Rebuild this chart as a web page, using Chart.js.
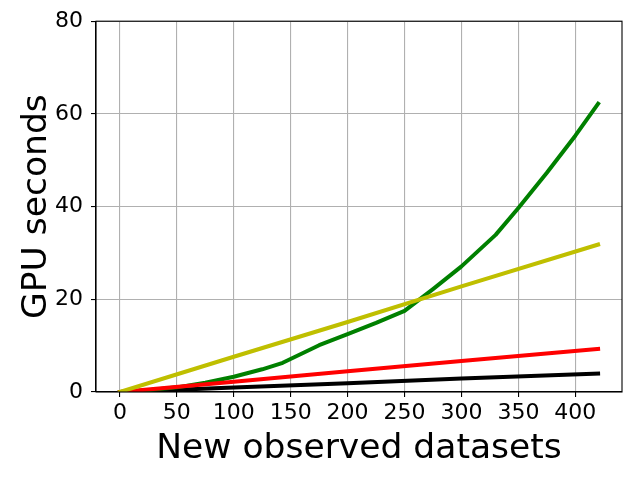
<!DOCTYPE html>
<html>
<head>
<meta charset="utf-8">
<script src="https://cdn.jsdelivr.net/npm/chart.js@4"></script>
<style>
  html, body { margin: 0; padding: 0; background: #fff; }
  #wrap { width: 640px; height: 480px; }
</style>
</head>
<body>
<div id="wrap"><canvas id="myChart" width="640" height="480"></canvas></div>
<script>
// values
const greenX = [0, 25, 50, 75, 100, 125, 143, 175, 200, 225, 250, 275, 300, 330, 350, 375, 400, 420];
const greenY = [0, 0.4, 1.0, 2.0, 3.3, 4.9, 6.3, 10.1, 12.5, 14.9, 17.5, 22.2, 27.1, 33.9, 39.7, 47.3, 55.3, 62.2];
const lineX = [0, 100, 200, 300, 420];
const yellowY = [0, 7.6, 15.1, 22.8, 31.8];
const redY = [0, 2.2, 4.5, 6.7, 9.3];
const blackY = [0, 0.95, 1.9, 2.9, 4.0];
const xTicks = [0, 50, 100, 150, 200, 250, 300, 350, 400];
const yTicks = [0, 20, 40, 60, 80];

const pts = (xs, ys) => xs.map((x, i) => ({x: x, y: ys[i]}));

const line = (data, color) => ({
    data: data,
    borderColor: color,
    borderWidth: 4,
    pointRadius: 0,
    borderCapStyle: 'square',
    borderJoinStyle: 'round',
    tension: 0,
    fill: false
});

// top/right spines like matplotlib
const frame = {
    id: 'frame',
    afterDatasetsDraw(chart) {
        const a = chart.chartArea, ctx = chart.ctx;
        ctx.save();
        ctx.strokeStyle = '#000';
        ctx.lineWidth = 1.1;
        ctx.strokeRect(a.left, a.top, a.right - a.left, a.bottom - a.top);
        ctx.restore();
    }
};

const font = 'DejaVu Sans';
const ctx = document.getElementById('myChart');
new Chart(ctx, {
    type: 'line',
    data: {
        datasets: [
            line(pts(lineX, yellowY), '#bfbf00'),
            line(pts(lineX, redY), '#ff0000'),
            line(pts(greenX, greenY), '#008000'),
            line(pts(lineX, blackY), '#000000')
        ]
    },
    options: {
        responsive: false,
        animation: false,
        layout: { padding: { top: 18, right: 18, left: 0, bottom: 0 } },
        plugins: { legend: { display: false }, tooltip: { enabled: false } },
        scales: {
            x: {
                type: 'linear',
                min: -21,
                max: 441,
                afterBuildTicks: s => { s.ticks = xTicks.map(v => ({value: v})); },
                afterFit: s => { s.height = 88; },
                ticks: { color: '#000', font: { family: font, size: 22 }, padding: 3, maxRotation: 0 },
                grid: { color: '#b0b0b0', lineWidth: 1.1, tickColor: '#000', tickLength: 5 },
                border: { color: '#000', width: 1.1 },
                title: { display: true, text: 'New observed datasets', color: '#000',
                         font: { family: font, size: 34.5 }, padding: { top: 0, bottom: 10 } }
            },
            y: {
                min: 0,
                max: 80,
                afterBuildTicks: s => { s.ticks = yTicks.map(v => ({value: v})); },
                afterFit: s => { s.width = 96; },
                ticks: { color: '#000', font: { family: font, size: 22 }, padding: 8 },
                grid: { color: '#b0b0b0', lineWidth: 1.1, tickColor: '#000', tickLength: 5 },
                border: { color: '#000', width: 1.1 },
                title: { display: true, text: 'GPU seconds', color: '#000',
                         font: { family: font, size: 34.5 }, padding: { top: 16, bottom: 0 } }
            }
        }
    },
    plugins: [frame]
});
</script>
</body>
</html>
